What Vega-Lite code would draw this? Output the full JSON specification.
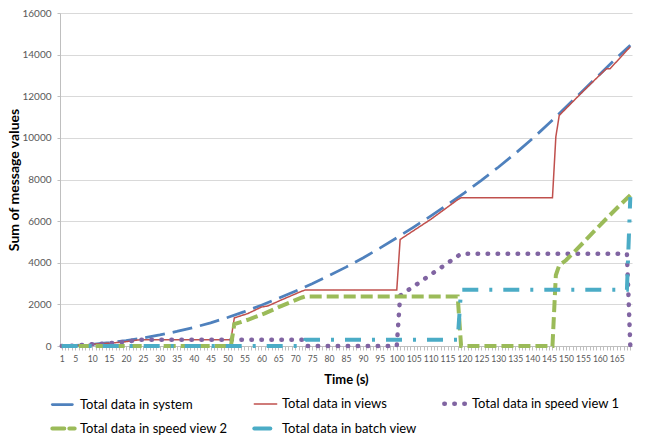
{
  "$schema": "https://vega.github.io/schema/vega-lite/v6.json",
  "width": 572,
  "height": 333,
  "autosize": {"type": "none"},
  "padding": {"left": 60, "top": 13, "right": 23, "bottom": 92},
  "background": "white",
  "config": {"view": {"stroke": null}, "font": "Lato"},
  "data": {
    "values": [
      {"s": "Total data in system", "t": 1, "v": 0},
      {"s": "Total data in system", "t": 5, "v": 25},
      {"s": "Total data in system", "t": 10, "v": 80},
      {"s": "Total data in system", "t": 15, "v": 160},
      {"s": "Total data in system", "t": 20, "v": 260},
      {"s": "Total data in system", "t": 25, "v": 380},
      {"s": "Total data in system", "t": 30, "v": 530},
      {"s": "Total data in system", "t": 35, "v": 700},
      {"s": "Total data in system", "t": 40, "v": 890},
      {"s": "Total data in system", "t": 45, "v": 1110},
      {"s": "Total data in system", "t": 50, "v": 1370},
      {"s": "Total data in system", "t": 55, "v": 1650},
      {"s": "Total data in system", "t": 60, "v": 1960},
      {"s": "Total data in system", "t": 65, "v": 2290},
      {"s": "Total data in system", "t": 70, "v": 2630},
      {"s": "Total data in system", "t": 75, "v": 2990},
      {"s": "Total data in system", "t": 80, "v": 3380},
      {"s": "Total data in system", "t": 85, "v": 3790},
      {"s": "Total data in system", "t": 90, "v": 4230},
      {"s": "Total data in system", "t": 95, "v": 4700},
      {"s": "Total data in system", "t": 100, "v": 5200},
      {"s": "Total data in system", "t": 105, "v": 5710},
      {"s": "Total data in system", "t": 110, "v": 6240},
      {"s": "Total data in system", "t": 115, "v": 6790},
      {"s": "Total data in system", "t": 120, "v": 7360},
      {"s": "Total data in system", "t": 125, "v": 7960},
      {"s": "Total data in system", "t": 130, "v": 8590},
      {"s": "Total data in system", "t": 135, "v": 9250},
      {"s": "Total data in system", "t": 140, "v": 9950},
      {"s": "Total data in system", "t": 145, "v": 10700},
      {"s": "Total data in system", "t": 150, "v": 11480},
      {"s": "Total data in system", "t": 155, "v": 12270},
      {"s": "Total data in system", "t": 160, "v": 13060},
      {"s": "Total data in system", "t": 165, "v": 13850},
      {"s": "Total data in system", "t": 169, "v": 14450},

      {"s": "Total data in views", "t": 1, "v": 0},
      {"s": "Total data in views", "t": 5, "v": 20},
      {"s": "Total data in views", "t": 9, "v": 70},
      {"s": "Total data in views", "t": 15, "v": 135},
      {"s": "Total data in views", "t": 19, "v": 190},
      {"s": "Total data in views", "t": 21, "v": 230},
      {"s": "Total data in views", "t": 24, "v": 300},
      {"s": "Total data in views", "t": 51, "v": 300},
      {"s": "Total data in views", "t": 52, "v": 1350},
      {"s": "Total data in views", "t": 56, "v": 1560},
      {"s": "Total data in views", "t": 60, "v": 1870},
      {"s": "Total data in views", "t": 61, "v": 1900},
      {"s": "Total data in views", "t": 62, "v": 1930},
      {"s": "Total data in views", "t": 66, "v": 2220},
      {"s": "Total data in views", "t": 72, "v": 2640},
      {"s": "Total data in views", "t": 73, "v": 2690},
      {"s": "Total data in views", "t": 100, "v": 2690},
      {"s": "Total data in views", "t": 101, "v": 5120},
      {"s": "Total data in views", "t": 110, "v": 6080},
      {"s": "Total data in views", "t": 118, "v": 7030},
      {"s": "Total data in views", "t": 119, "v": 7120},
      {"s": "Total data in views", "t": 146, "v": 7120},
      {"s": "Total data in views", "t": 147, "v": 10050},
      {"s": "Total data in views", "t": 148, "v": 11080},
      {"s": "Total data in views", "t": 155, "v": 12230},
      {"s": "Total data in views", "t": 161, "v": 13180},
      {"s": "Total data in views", "t": 162, "v": 13330},
      {"s": "Total data in views", "t": 163, "v": 13320},
      {"s": "Total data in views", "t": 169, "v": 14380},

      {"s": "Total data in speed view 1", "t": 1, "v": 0},
      {"s": "Total data in speed view 1", "t": 5, "v": 20},
      {"s": "Total data in speed view 1", "t": 9, "v": 70},
      {"s": "Total data in speed view 1", "t": 15, "v": 135},
      {"s": "Total data in speed view 1", "t": 19, "v": 190},
      {"s": "Total data in speed view 1", "t": 21, "v": 230},
      {"s": "Total data in speed view 1", "t": 24, "v": 300},
      {"s": "Total data in speed view 1", "t": 72, "v": 300},
      {"s": "Total data in speed view 1", "t": 73, "v": 0},
      {"s": "Total data in speed view 1", "t": 100, "v": 0},
      {"s": "Total data in speed view 1", "t": 101, "v": 2420},
      {"s": "Total data in speed view 1", "t": 119, "v": 4430},
      {"s": "Total data in speed view 1", "t": 168, "v": 4430},
      {"s": "Total data in speed view 1", "t": 169, "v": 0},

      {"s": "Total data in speed view 2", "t": 1, "v": 0},
      {"s": "Total data in speed view 2", "t": 51, "v": 0},
      {"s": "Total data in speed view 2", "t": 52, "v": 1050},
      {"s": "Total data in speed view 2", "t": 56, "v": 1260},
      {"s": "Total data in speed view 2", "t": 61, "v": 1570},
      {"s": "Total data in speed view 2", "t": 66, "v": 1930},
      {"s": "Total data in speed view 2", "t": 72, "v": 2330},
      {"s": "Total data in speed view 2", "t": 73, "v": 2380},
      {"s": "Total data in speed view 2", "t": 118, "v": 2380},
      {"s": "Total data in speed view 2", "t": 119, "v": 0},
      {"s": "Total data in speed view 2", "t": 146, "v": 0},
      {"s": "Total data in speed view 2", "t": 147, "v": 3400},
      {"s": "Total data in speed view 2", "t": 148, "v": 3880},
      {"s": "Total data in speed view 2", "t": 150, "v": 4120},
      {"s": "Total data in speed view 2", "t": 155, "v": 4950},
      {"s": "Total data in speed view 2", "t": 160, "v": 5800},
      {"s": "Total data in speed view 2", "t": 165, "v": 6620},
      {"s": "Total data in speed view 2", "t": 169, "v": 7250},

      {"s": "Total data in batch view", "t": 1, "v": 0},
      {"s": "Total data in batch view", "t": 72, "v": 0},
      {"s": "Total data in batch view", "t": 73, "v": 300},
      {"s": "Total data in batch view", "t": 118, "v": 300},
      {"s": "Total data in batch view", "t": 119, "v": 2700},
      {"s": "Total data in batch view", "t": 168, "v": 2700},
      {"s": "Total data in batch view", "t": 169, "v": 7150}
    ]
  },
  "encoding": {
    "x": {
      "field": "t",
      "type": "quantitative",
      "scale": {"domain": [0.5, 169.5], "nice": false, "zero": false},
      "axis": {
        "values": [1,2,3,4,5,6,7,8,9,10,11,12,13,14,15,16,17,18,19,20,21,22,23,24,25,26,27,28,29,30,31,32,33,34,35,36,37,38,39,40,41,42,43,44,45,46,47,48,49,50,51,52,53,54,55,56,57,58,59,60,61,62,63,64,65,66,67,68,69,70,71,72,73,74,75,76,77,78,79,80,81,82,83,84,85,86,87,88,89,90,91,92,93,94,95,96,97,98,99,100,101,102,103,104,105,106,107,108,109,110,111,112,113,114,115,116,117,118,119,120,121,122,123,124,125,126,127,128,129,130,131,132,133,134,135,136,137,138,139,140,141,142,143,144,145,146,147,148,149,150,151,152,153,154,155,156,157,158,159,160,161,162,163,164,165,166,167,168,169],
        "labelExpr": "datum.value == 1 || datum.value % 5 == 0 ? datum.label : ''",
        "labelOverlap": false,
        "labelFlush": false,
        "labelBound": false,
        "grid": false,
        "domainColor": "#BFBFBF",
        "tickColor": "#BFBFBF",
        "tickSize": 4,
        "labelPadding": 4,
        "labelColor": "#595959",
        "labelFont": "Lato",
        "labelFontSize": 8.6,
        "title": "Time (s)",
        "titleFont": "Lato",
        "titleFontSize": 13,
        "titleFontWeight": "bold",
        "titleColor": "#000000",
        "titlePadding": 11
      }
    },
    "y": {
      "field": "v",
      "type": "quantitative",
      "scale": {"domain": [0, 16000], "nice": false},
      "axis": {
        "values": [0, 2000, 4000, 6000, 8000, 10000, 12000, 14000, 16000],
        "format": "d",
        "grid": true,
        "gridColor": "#D9D9D9",
        "domainColor": "#BFBFBF",
        "tickColor": "#BFBFBF",
        "tickSize": 3,
        "labelPadding": 6,
        "labelColor": "#595959",
        "labelFont": "Lato",
        "labelFontSize": 10,
        "title": "Sum of message values",
        "titleFont": "Lato",
        "titleFontSize": 14,
        "titleFontWeight": "bold",
        "titleColor": "#000000",
        "titlePadding": 0
      }
    },
    "color": {
      "field": "s",
      "type": "nominal",
      "scale": {
        "domain": ["Total data in system", "Total data in views", "Total data in speed view 1", "Total data in speed view 2", "Total data in batch view"],
        "range": ["#4F81BD", "#C0504D", "#8064A2", "#9BBB59", "#4BACC6"]
      },
      "legend": {
        "orient": "none",
        "direction": "horizontal",
        "legendX": -10,
        "legendY": 377,
        "columns": 3,
        "title": null,
        "symbolType": "stroke",
        "symbolSize": 500,
        "labelFont": "Lato",
        "labelFontSize": 13,
        "labelColor": "#000000",
        "labelLimit": 300,
        "columnPadding": 18,
        "rowPadding": 2,
        "padding": 0,
        "labelOffset": 3,
        "encode": {"symbols": {"update": {"strokeCap": {"value": "round"}}}}
      }
    },
    "strokeDash": {
      "field": "s",
      "type": "nominal",
      "scale": {
        "domain": ["Total data in system", "Total data in views", "Total data in speed view 1", "Total data in speed view 2", "Total data in batch view"],
        "range": [[20, 8], [1, 0], [0.5, 9.5], [12, 5], [16, 11, 3, 11]]
      }
    },
    "strokeWidth": {
      "field": "s",
      "type": "nominal",
      "scale": {
        "type": "ordinal",
        "domain": ["Total data in system", "Total data in views", "Total data in speed view 1", "Total data in speed view 2", "Total data in batch view"],
        "range": [2.75, 1.5, 4.5, 4, 4]
      }
    }
  },
  "layer": [
    {
      "transform": [{"filter": "datum.s == 'Total data in system' || datum.s == 'Total data in views'"}],
      "mark": {"type": "line", "strokeCap": "butt"}
    },
    {
      "transform": [{"filter": "datum.s == 'Total data in speed view 1'"}],
      "mark": {"type": "line", "strokeCap": "round"}
    },
    {
      "transform": [{"filter": "datum.s == 'Total data in speed view 2' || datum.s == 'Total data in batch view'"}],
      "mark": {"type": "line", "strokeCap": "butt"}
    }
  ]
}
